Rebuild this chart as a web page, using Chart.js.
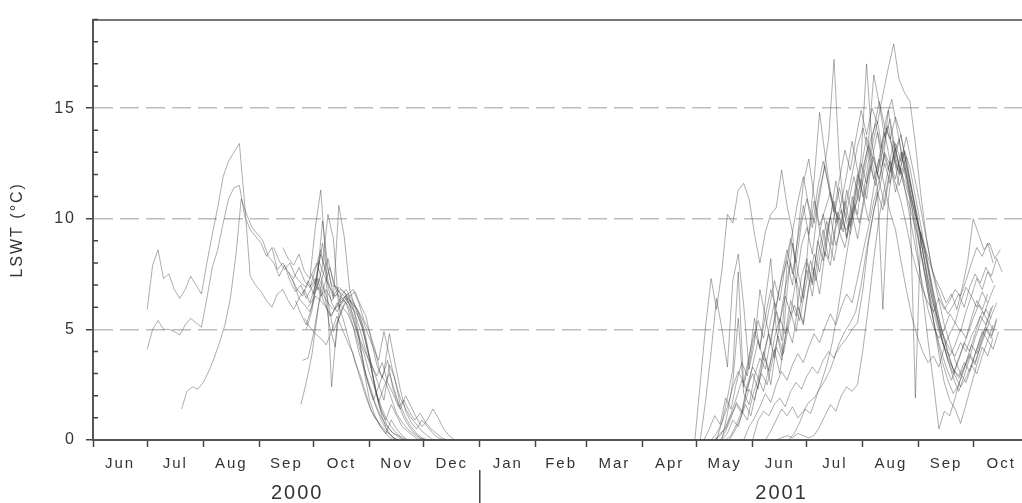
<!DOCTYPE html>
<html lang="en">
<head>
<meta charset="UTF-8">
<title>LSWT 2000-2001</title>
<script src="https://cdn.jsdelivr.net/npm/chart.js@4.4.1/dist/chart.umd.min.js"></script>
<style>
  body { margin: 0; background: #fff; }
  #wrap { width: 1022px; height: 503px; }
</style>
</head>
<body>
<div id="wrap"><canvas id="lswt" width="1022" height="503"></canvas></div>
<script>
// x values are days counted from 1 June 2000
const monthStarts = [0, 30, 61, 92, 122, 153, 183, 214, 245, 273, 304, 334, 365, 395, 426, 457, 487, 518];
const monthNames = ['Jun', 'Jul', 'Aug', 'Sep', 'Oct', 'Nov', 'Dec', 'Jan', 'Feb', 'Mar', 'Apr', 'May', 'Jun', 'Jul', 'Aug', 'Sep', 'Oct'];
const yearNames = ['2000', '2001'];
const yearDays = [113, 381];
const yearBreak = 214;   // 1 Jan 2001
const dayMax = 514;
const tempMax = 19;
const step = 3;          // one reading every 3 days

// ---- 2000 season ----
const starts2000 = [30, 30, 49, 105, 100, 108, 112, 115, 116, 110, 118, 120, 119, 121, 122, 117];
const a1 = [5.9, 7.9, 8.6, 7.3, 7.5, 6.8, 6.4, 6.8, 7.4, 7.0, 6.6, 8.0, 9.3, 10.5, 11.9, 12.6, 13.0, 13.4, 10.6, 7.4, 7.0, 6.7, 6.3, 6.0, 6.6, 6.8, 6.3, 5.9, 6.4, 6.1, 5.8, 6.5, 6.3, 6.0, 5.6, 6.2, 6.0, 5.7, 5.1, 4.0, 3.2, 2.5, 1.7, 1.1, 0.7, 0.4, 0.2, 0.0];
const a2 = [4.1, 5.0, 5.4, 5.0, 5.0, 4.9, 4.75, 5.2, 5.5, 5.3, 5.1, 6.4, 7.8, 8.6, 9.8, 10.9, 11.4, 11.5, 10.1, 9.5, 9.2, 8.9, 8.3, 8.7, 7.7, 8.0, 7.6, 7.3, 7.8, 7.2, 6.9, 7.3, 6.5, 6.8, 6.3, 6.6, 6.4, 6.1, 5.4, 4.6, 3.9, 3.0, 2.3, 1.6, 1.0, 0.6, 0.3, 0.1, 0.0];
const a3 = [1.4, 2.2, 2.4, 2.3, 2.6, 3.1, 3.7, 4.4, 5.2, 6.4, 8.3, 10.9, 10.2, 9.6, 9.3, 9.0, 8.3, 8.0, 7.4, 7.9, 7.2, 6.7, 7.0, 6.4, 6.9, 7.3, 6.6, 6.2, 5.9, 6.1, 5.3, 4.4, 3.5, 2.9, 2.1, 1.3, 0.9, 0.5, 0.2, 0.0];
const s1 = [8.7, 8.2, 7.9, 8.4, 7.6, 7.3, 9.6, 11.3, 8.0, 7.0, 6.9, 6.4, 6.6, 6.8, 6.2, 5.4, 4.9, 4.1, 3.0, 2.6, 1.9, 1.2, 0.8, 0.5, 0.3, 0.1, 0.0];
const s2 = [8.7, 8.1, 7.7, 8.0, 7.4, 7.1, 6.9, 7.5, 6.8, 7.9, 10.2, 9.1, 6.0, 6.3, 6.5, 6.7, 6.1, 5.6, 4.5, 3.4, 2.8, 3.6, 2.3, 1.6, 1.0, 0.6, 0.3, 0.1, 0.0];
const s3 = [7.6, 7.1, 6.4, 6.8, 6.2, 7.0, 8.4, 7.6, 2.4, 5.2, 6.0, 6.4, 6.2, 5.8, 5.0, 3.8, 2.3, 1.4, 0.9, 1.6, 1.1, 0.6, 0.4, 0.2, 0.0];
const s4 = [6.3, 5.7, 5.2, 6.0, 7.5, 8.9, 7.2, 6.4, 10.6, 9.2, 6.8, 6.0, 5.3, 4.4, 3.3, 2.1, 1.2, 0.6, 0.3, 0.2, 0.0];
const s5 = [1.6, 2.6, 3.8, 5.6, 7.4, 8.2, 7.1, 6.7, 6.5, 6.1, 5.4, 4.2, 2.9, 2.1, 1.4, 0.8, 0.4, 0.1, 0.0];
const s6 = [3.6, 3.7, 4.8, 6.2, 7.0, 7.8, 6.9, 6.2, 6.5, 6.0, 5.7, 5.1, 4.0, 3.2, 2.5, 1.8, 3.4, 2.8, 1.6, 1.0, 0.6, 0.3, 0.1, 0.0];
const s7 = [7.3, 6.8, 6.5, 7.2, 6.6, 8.1, 7.4, 6.9, 6.5, 6.8, 6.6, 6.2, 5.9, 5.5, 4.8, 4.2, 3.6, 4.9, 3.8, 2.7, 1.9, 1.4, 1.0, 0.7, 0.4, 0.2, 0.0];
const s8 = [5.0, 5.8, 7.2, 9.9, 7.8, 6.5, 6.9, 6.7, 6.1, 5.2, 4.5, 3.9, 3.4, 2.9, 3.5, 2.6, 2.1, 1.5, 1.8, 1.3, 0.9, 1.2, 0.8, 0.5, 0.3, 0.1, 0.0];
const s9 = [6.9, 7.7, 8.6, 7.4, 6.2, 5.8, 6.3, 6.6, 6.0, 4.8, 3.1, 1.8, 1.1, 0.6, 0.3, 0.9, 0.5, 0.2, 0.0];
const s10 = [6.0, 6.4, 7.3, 6.7, 5.1, 4.2, 6.5, 6.8, 6.4, 5.9, 5.2, 4.1, 2.8, 1.7, 2.4, 3.0, 2.2, 1.4, 2.0, 1.5, 1.0, 0.6, 0.9, 1.4, 1.0, 0.5, 0.2, 0.0];
const s11 = [7.5, 8.0, 7.1, 6.3, 4.9, 5.5, 6.1, 6.3, 5.7, 4.9, 4.0, 3.2, 2.0, 1.0, 0.4, 0.1, 0.0];
const s12 = [6.6, 6.9, 6.2, 5.6, 5.9, 6.4, 6.2, 5.4, 4.6, 3.7, 2.6, 1.8, 2.4, 3.1, 4.8, 3.5, 2.3, 1.3, 0.8, 0.5, 0.9, 0.6, 0.3, 0.1, 0.0];
const s13 = [5.5, 5.1, 4.8, 4.6, 4.3, 4.9, 5.6, 5.0, 4.4, 3.9, 3.0, 2.2, 1.5, 1.0, 0.7, 0.4, 0.2, 0.0];
const temps2000 = [a1, a2, a3, s1, s2, s3, s4, s5, s6, s7, s8, s9, s10, s11, s12, s13];

// ---- 2001 season ----
const starts2001 = [333, 336, 342, 344, 347, 348, 338, 350, 344, 352, 378, 372, 365, 360, 385, 345, 348];
const e1 = [0.0, 2.6, 5.2, 7.3, 5.9, 7.7, 10.2, 9.8, 11.3, 11.6, 10.9, 9.3, 8.0, 9.4, 10.2, 10.5, 12.2, 10.6, 9.4, 10.8, 11.9, 10.6, 9.8, 11.3, 12.4, 11.0, 10.2, 9.9, 9.5, 10.1, 10.9, 12.3, 13.3, 12.6, 11.8, 13.0, 12.4, 11.6, 10.8, 9.7, 8.5, 7.6, 6.8, 6.2, 5.8, 6.4, 5.9, 6.3, 6.8, 6.5, 7.2, 8.0, 8.7, 8.3, 8.9, 8.0];
const e2 = [0.0, 1.8, 4.0, 6.4, 5.0, 3.3, 7.2, 8.4, 6.1, 3.2, 4.4, 6.8, 5.6, 4.3, 6.1, 7.3, 8.1, 7.0, 9.3, 11.6, 12.7, 11.0, 9.7, 10.4, 11.2, 10.3, 9.5, 10.8, 12.0, 13.3, 14.1, 13.0, 11.8, 12.7, 11.4, 10.3, 9.5, 8.1, 6.8, 5.6, 4.7, 4.0, 3.5, 3.8, 3.3, 4.2, 4.8, 5.3, 4.9, 5.8, 6.5, 6.0, 6.7, 6.2];
const m1 = [0.0, 0.3, 0.8, 1.5, 2.4, 3.1, 2.6, 3.8, 4.9, 4.2, 5.6, 6.8, 6.0, 7.4, 8.6, 7.5, 9.1, 10.6, 9.3, 11.8, 14.8, 12.9, 11.2, 9.8, 10.7, 12.0, 13.5, 12.2, 11.0, 12.6, 14.0, 15.3, 14.2, 13.6, 14.6, 13.8, 12.5, 11.4, 9.9, 8.6, 7.2, 6.1, 5.3, 4.6, 4.1, 3.8, 4.4, 4.0, 4.7, 5.2, 5.8, 5.4, 6.1];
const m2 = [0.0, 0.2, 0.6, 1.2, 1.9, 2.7, 2.2, 3.4, 4.5, 3.6, 5.0, 6.2, 5.3, 6.9, 8.0, 7.1, 8.8, 9.6, 8.4, 10.5, 12.0, 13.6, 17.2, 12.4, 10.1, 9.3, 10.6, 11.8, 10.9, 12.7, 13.9, 12.4, 14.9, 13.2, 12.1, 13.0, 11.6, 10.4, 9.0, 7.7, 6.5, 5.4, 4.4, 3.7, 3.2, 2.9, 3.5, 3.1, 3.9, 4.6, 5.1, 4.7, 5.5];
const m3 = [0.0, 0.4, 1.0, 1.7, 1.3, 2.5, 3.3, 2.8, 4.0, 3.1, 4.6, 5.5, 4.8, 6.3, 5.6, 7.4, 8.2, 7.0, 9.0, 8.1, 9.7, 10.8, 9.4, 8.7, 9.9, 11.2, 12.8, 17.0, 13.4, 12.0, 13.1, 14.2, 12.8, 11.5, 12.3, 11.1, 10.2, 9.3, 8.4, 7.1, 5.9, 4.8, 3.9, 3.2, 2.8, 3.3, 3.9, 3.5, 4.2, 4.9, 5.6, 6.2];
const m4 = [0.0, 0.3, 0.9, 0.6, 1.5, 2.3, 1.8, 2.9, 3.7, 2.5, 4.2, 3.6, 5.1, 4.4, 6.0, 5.2, 6.9, 7.8, 6.6, 8.5, 7.9, 9.6, 10.4, 9.1, 11.0, 10.2, 12.1, 13.4, 16.5, 15.2, 13.7, 14.5, 13.1, 12.0, 12.8, 11.3, 10.0, 8.9, 7.8, 6.6, 5.5, 4.6, 3.7, 2.9, 2.4, 2.8, 3.4, 3.0, 3.8, 4.5, 4.1, 4.9];
const m5 = [0.0, 0.5, 1.1, 0.7, 1.9, 1.4, 2.6, 3.5, 2.9, 4.3, 5.4, 4.6, 5.9, 7.2, 6.3, 7.9, 9.1, 8.0, 9.8, 10.9, 9.6, 11.4, 12.6, 11.5, 10.3, 11.8, 13.1, 12.2, 13.6, 14.9, 13.8, 15.0, 14.3, 15.6, 16.8, 17.9, 16.3, 15.7, 15.3, 13.4, 11.1, 9.2, 7.8, 6.9, 6.2, 5.7, 6.1, 6.6, 6.0, 6.9, 7.5, 7.1, 7.8, 7.4, 8.2, 7.6];
const m6 = [0.0, 0.2, 0.7, 1.3, 0.9, 2.0, 2.8, 2.2, 3.3, 4.1, 3.0, 4.7, 5.8, 4.9, 6.4, 7.7, 6.5, 8.3, 9.5, 8.2, 10.1, 11.4, 10.3, 9.6, 10.9, 12.3, 13.7, 12.6, 11.4, 5.9, 10.8, 12.9, 13.6, 12.1, 10.9, 9.8, 8.4, 7.1, 5.8, 4.6, 3.5, 2.7, 2.1, 2.5, 3.2, 3.8, 3.4, 4.3, 5.0, 4.6, 5.4];
const m7 = [0.0, 0.3, 0.5, 1.1, 1.6, 1.2, 2.4, 3.0, 2.3, 3.9, 4.8, 3.7, 5.3, 6.5, 5.7, 7.3, 6.2, 8.0, 7.1, 8.9, 10.2, 9.0, 8.1, 9.5, 10.8, 9.7, 11.3, 12.5, 11.6, 13.2, 14.4, 13.0, 12.2, 13.5, 12.4, 11.7, 10.9, 1.9, 9.4, 8.1, 6.7, 5.6, 4.5, 3.6, 3.0, 3.7, 4.4, 4.0, 4.8, 5.6, 5.2, 6.0];
const m8 = [0.0, 0.4, 0.9, 1.6, 1.1, 2.2, 3.0, 2.5, 3.6, 4.7, 3.9, 5.2, 6.1, 5.4, 6.8, 8.1, 7.2, 8.7, 9.9, 8.8, 10.3, 9.4, 10.7, 11.9, 10.8, 12.2, 13.5, 14.3, 13.2, 14.6, 15.4, 14.0, 12.7, 11.6, 10.5, 9.6, 8.8, 8.0, 7.3, 6.8, 6.2, 6.6, 5.9, 6.9, 8.1, 10.0, 9.3, 8.6, 8.9, 8.2, 8.6];
const l1 = [0.0, 0.1, 0.2, 0.1, 0.3, 0.2, 0.1, 0.2, 0.6, 1.1, 1.6, 1.3, 2.0, 2.4, 2.2, 2.5, 4.1, 6.0, 8.2, 10.1, 11.4, 12.6, 11.8, 13.0, 12.1, 10.6, 8.7, 6.6, 4.5, 2.6, 0.5, 1.3, 1.1, 1.9, 2.8, 3.5, 4.3, 3.9, 4.7, 5.4, 5.0];
const l2 = [0.0, 0.4, 0.9, 1.4, 1.1, 1.5, 1.0, 1.3, 1.7, 1.9, 2.3, 2.7, 3.2, 3.9, 4.3, 4.6, 5.0, 5.3, 6.8, 8.9, 10.4, 11.3, 12.5, 11.6, 12.9, 13.8, 12.4, 11.3, 10.2, 8.6, 7.0, 5.4, 3.9, 2.6, 1.8, 1.4, 0.75, 1.6, 2.5, 3.4, 4.2, 3.8, 4.6];
const l3 = [0.0, 0.9, 1.3, 1.1, 1.6, 1.9, 1.5, 2.2, 2.6, 2.3, 2.9, 3.3, 3.0, 3.6, 4.0, 3.7, 4.4, 4.9, 5.3, 5.8, 7.0, 8.6, 9.9, 11.2, 10.4, 11.8, 12.9, 12.0, 13.1, 12.3, 11.0, 9.7, 8.3, 6.9, 5.6, 4.5, 3.6, 2.8, 2.2, 2.9, 3.7, 4.6, 5.3, 5.9, 5.5];
const l4 = [0.0, 0.6, 1.0, 1.5, 2.1, 1.7, 2.5, 3.1, 2.7, 3.4, 3.9, 3.5, 4.2, 4.8, 4.4, 5.1, 5.7, 5.2, 6.0, 6.6, 6.2, 7.3, 8.5, 9.6, 10.8, 11.7, 12.9, 12.1, 13.4, 12.6, 13.7, 12.5, 11.3, 10.0, 8.7, 7.4, 6.3, 5.2, 4.4, 3.6, 3.0, 2.6, 3.3, 4.1, 4.9, 4.5, 5.2];
const l5 = [0.0, 0.3, 0.8, 1.4, 1.2, 1.9, 2.6, 3.4, 4.4, 5.8, 7.4, 8.9, 10.6, 9.8, 11.2, 12.4, 11.5, 13.0, 14.1, 13.3, 12.2, 13.0, 11.8, 10.5, 9.1, 7.6, 6.2, 5.0, 4.1, 3.3, 2.7, 3.4, 4.1, 4.8, 5.5, 6.1, 5.7, 6.4, 7.0];
const p1 = [0.0, 0.8, 1.9, 3.2, 7.6, 2.4, 3.6, 5.5, 4.1, 6.3, 8.2, 5.0, 3.8, 6.7, 8.9, 7.6, 6.4, 9.2, 10.8, 9.5, 8.3, 10.1, 11.7, 10.4, 9.2, 10.6, 12.0, 11.1, 9.9, 11.4, 12.8, 13.9, 12.6, 11.2, 12.3, 11.0, 9.6, 8.3, 7.0, 5.9, 5.1, 4.6, 5.0, 5.7, 5.3, 6.2, 6.9, 6.5, 7.3, 6.8, 7.6, 7.1];
const p2 = [0.0, 1.2, 2.6, 5.5, 2.1, 1.6, 2.9, 3.7, 3.2, 4.6, 5.8, 4.5, 7.9, 9.4, 6.1, 5.3, 7.0, 8.4, 7.6, 9.0, 10.1, 8.8, 9.7, 11.3, 10.2, 9.1, 10.5, 11.9, 12.8, 11.7, 10.6, 12.1, 13.2, 12.0, 11.1, 10.2, 9.3, 8.1, 6.9, 5.8, 4.9, 4.2, 3.8, 4.3, 5.0, 4.6, 5.5, 6.3, 5.9, 6.6];
const temps2001 = [e1, e2, m1, m2, m3, m4, m5, m6, m7, m8, l1, l2, l3, l4, l5, p1, p2];

const font = "'Liberation Sans', Arial, sans-serif";
const ink = '#333';
const axisInk = '#555';
const clear = 'rgba(0,0,0,0)';

function series(start, temps) {
  return {
    data: temps.map((t, i) => ({ x: start + i * step, y: t })),
    borderColor: 'rgba(60,60,60,0.42)',
    borderWidth: 1,
    pointRadius: 0,
    tension: 0,
    fill: false
  };
}

const datasets = [];
temps2000.forEach((t, i) => datasets.push(series(starts2000[i], t)));
temps2001.forEach((t, i) => datasets.push(series(starts2001[i], t)));

// spaced lettering, inner minor ticks on y and the year divider
const decor = {
  id: 'decor',
  beforeDraw(chart) {
    chart.ctx.letterSpacing = '2px';
  },
  afterDraw(chart) {
    const ctx = chart.ctx;
    const y = chart.scales.y;
    const x = chart.scales.x;
    const yr = chart.scales.xy;
    ctx.save();
    ctx.strokeStyle = '#444';
    ctx.lineWidth = 1.5;
    ctx.beginPath();
    for (let v = 1; v <= tempMax; v++) {
      if (v % 5 === 0) continue;
      const py = y.getPixelForValue(v);
      ctx.moveTo(y.right, py);
      ctx.lineTo(y.right + 5, py);
    }
    const bx = x.getPixelForValue(yearBreak);
    ctx.moveTo(bx, yr.top - 5);
    ctx.lineTo(bx, chart.height);
    ctx.stroke();
    ctx.restore();
  }
};

new Chart(document.getElementById('lswt'), {
  type: 'line',
  data: { datasets: datasets },
  plugins: [decor],
  options: {
    responsive: false,
    animation: false,
    events: [],
    layout: { padding: { top: 13, left: 0, right: 0, bottom: 0 } },
    plugins: { legend: { display: false }, tooltip: { enabled: false } },
    scales: {
      x: {
        type: 'linear', position: 'bottom', weight: 0,
        min: 0, max: dayMax,
        afterBuildTicks: s => { s.ticks = monthStarts.filter(d => d <= dayMax).map(d => ({ value: d })); },
        afterFit: s => { s.height = 7; },
        ticks: { display: false },
        grid: { drawOnChartArea: false, drawTicks: true, tickLength: 7, tickColor: '#444', tickWidth: 1.5 },
        border: { color: axisInk, width: 2 }
      },
      xm: {
        type: 'linear', position: 'bottom', weight: 1,
        min: 0, max: dayMax,
        afterBuildTicks: s => {
          s.ticks = monthNames.map((m, i) => ({ value: (monthStarts[i] + monthStarts[i + 1]) / 2 }));
        },
        afterFit: s => { s.height = 28; },
        ticks: {
          autoSkip: false, maxRotation: 0, minRotation: 0, padding: 8,
          color: ink, font: { family: font, size: 15 },
          callback: (v, i) => monthNames[i]
        },
        grid: { display: false, drawTicks: false },
        border: { display: false }
      },
      xy: {
        type: 'linear', position: 'bottom', weight: 2,
        min: 0, max: dayMax,
        afterBuildTicks: s => { s.ticks = yearDays.map(d => ({ value: d })); },
        afterFit: s => { s.height = 28; },
        ticks: {
          autoSkip: false, maxRotation: 0, minRotation: 0, padding: 6,
          color: ink, font: { family: font, size: 20 },
          callback: (v, i) => yearNames[i]
        },
        grid: { display: false, drawTicks: false },
        border: { display: false }
      },
      xt: {
        type: 'linear', position: 'top',
        min: 0, max: dayMax,
        afterFit: s => { s.height = 0; },
        ticks: { display: false },
        grid: { display: false, drawTicks: false },
        border: { color: '#777', width: 2 }
      },
      y: {
        type: 'linear', position: 'left',
        min: 0, max: tempMax,
        afterFit: s => { s.width = 93; },
        ticks: {
          stepSize: 1, autoSkip: false, padding: 10,
          color: ink, font: { family: font, size: 16 },
          callback: v => (v % 5 === 0 ? v : '')
        },
        grid: {
          color: c => (c.tick && c.tick.value % 5 === 0 && c.tick.value > 0 ? '#bdbdbd' : clear),
          lineWidth: 1.5,
          tickLength: 7,
          tickWidth: 1.5,
          tickColor: c => (c.tick && c.tick.value % 5 === 0 ? '#444' : clear)
        },
        border: { color: axisInk, width: 2, dash: [19, 7] },
        title: {
          display: true, text: 'LSWT (°C)',
          color: ink, font: { family: font, size: 16 },
          padding: { top: 8, bottom: 0 }
        }
      }
    }
  }
});
</script>
</body>
</html>
